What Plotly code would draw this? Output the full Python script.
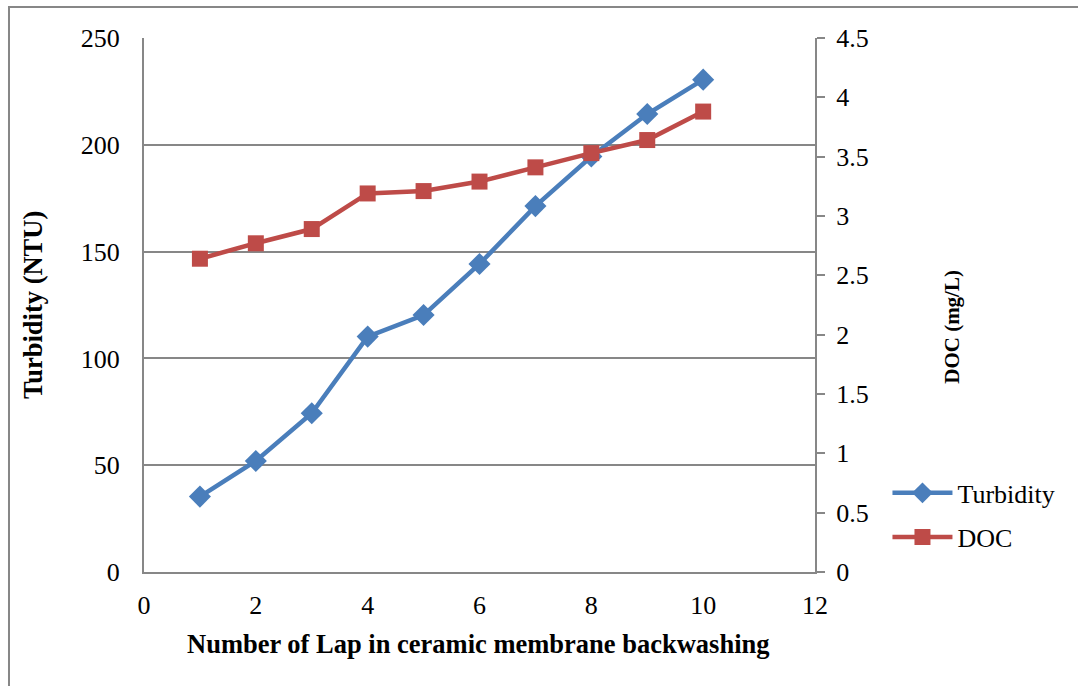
import plotly.graph_objects as go

laps = [1, 2, 3, 4, 5, 6, 7, 8, 9, 10]
turbidity = [35.3, 52, 74.3, 110.2, 120.3, 144.2, 171.3, 194.5, 214.4, 230.5]
doc = [2.64, 2.77, 2.89, 3.19, 3.21, 3.29, 3.41, 3.53, 3.64, 3.88]

FONT = "Liberation Serif"
GRAY = "#878787"

fig = go.Figure()
fig.add_trace(go.Scatter(
    x=laps, y=turbidity, name="Turbidity", mode="lines+markers",
    line=dict(color="#4A7EBB", width=4.5),
    marker=dict(symbol="diamond", size=17, color="#4A7EBB"),
    yaxis="y", legend="legend"))
fig.add_trace(go.Scatter(
    x=laps, y=doc, name="DOC", mode="lines+markers",
    line=dict(color="#BE4B48", width=4.5),
    marker=dict(symbol="square", size=16, color="#BE4B48"),
    yaxis="y2", legend="legend2"))

leg_common = dict(xanchor="left", yanchor="middle",
                  font=dict(family=FONT, size=26), bgcolor="rgba(0,0,0,0)",
                  itemwidth=60)

fig.update_layout(
    width=1078, height=686,
    margin=dict(l=144, r=263, t=38, b=114),
    paper_bgcolor="white", plot_bgcolor="white",
    font=dict(family=FONT, size=26, color="black"),
    showlegend=True,
    legend=dict(x=1.108, y=0.148, **leg_common),
    legend2=dict(x=1.108, y=0.0655, **leg_common),
    xaxis=dict(range=[0, 12], dtick=2, tick0=0, showgrid=False, zeroline=False,
               showline=True, linecolor=GRAY, linewidth=2, ticks="",
               ticklabelstandoff=9, tickfont=dict(size=26)),
    yaxis=dict(range=[0, 250], dtick=50, tick0=0, showgrid=True, gridcolor=GRAY,
               gridwidth=2, zeroline=False, showline=True, linecolor=GRAY,
               linewidth=2, ticks="", ticklabelstandoff=17,
               tickfont=dict(size=26)),
    yaxis2=dict(range=[0, 4.5], dtick=0.5, tick0=0, overlaying="y", side="right",
                showgrid=False, zeroline=False, showline=True, linecolor=GRAY,
                linewidth=2, ticks="outside", ticklen=8, tickcolor=GRAY,
                tickwidth=2, ticklabelstandoff=6, tickfont=dict(size=26)),
    annotations=[
        dict(text="<b>Number of Lap in ceramic membrane backwashing</b>",
             xref="paper", yref="paper", x=0.498, y=-0.135, showarrow=False,
             xanchor="center", yanchor="middle", font=dict(family=FONT, size=26.5)),
        dict(text="<b>Turbidity (NTU)</b>", textangle=-90,
             xref="paper", yref="paper", x=-0.1654, y=0.5, showarrow=False,
             xanchor="center", yanchor="middle", font=dict(family=FONT, size=26.5)),
        dict(text="<b>DOC (mg/L)</b>", textangle=-90,
             xref="paper", yref="paper", x=1.204, y=0.459, showarrow=False,
             xanchor="center", yanchor="middle", font=dict(family=FONT, size=21)),
    ],
    shapes=[dict(type="rect", xref="paper", yref="paper",
                 x0=-0.2012, y0=-1.0, x1=2.0, y1=1.058,
                 line=dict(color=GRAY, width=2), fillcolor="rgba(0,0,0,0)",
                 layer="below")],
)

fig.write_html("out.html")
